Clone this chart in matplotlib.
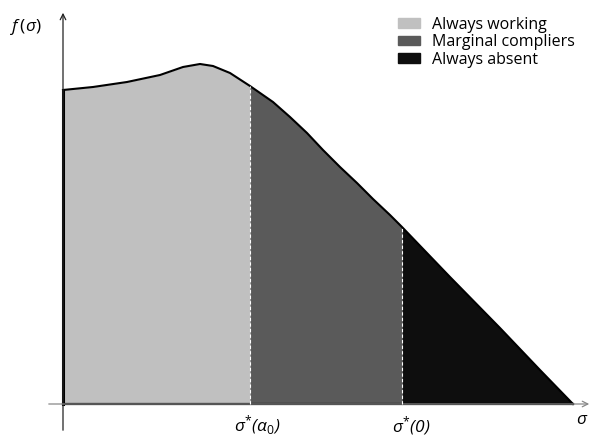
import matplotlib
matplotlib.use("Agg")
import matplotlib.pyplot as plt
from matplotlib.patches import Patch

plt.rcParams['font.family'] = ['Open Sans', 'DejaVu Sans']
plt.rcParams['mathtext.fontset'] = 'custom'
plt.rcParams['mathtext.it'] = 'Open Sans:italic'
plt.rcParams['mathtext.rm'] = 'Open Sans'

# density curve
sigma = [0.0, 0.30, 0.64, 0.97, 1.20, 1.37, 1.50, 1.67, 1.87, 2.10, 2.27,
         2.44, 2.60, 2.77, 2.94, 3.10, 3.27, 3.39, 3.87, 4.37, 4.77, 5.10]
density = [3.14, 3.17, 3.22, 3.29, 3.37, 3.40, 3.38, 3.31, 3.18, 3.02, 2.87,
           2.71, 2.54, 2.37, 2.21, 2.05, 1.89, 1.77, 1.27, 0.76, 0.34, 0.0]

# thresholds
sigma_alpha0 = 1.87
sigma_zero = 3.39

group_labels = ['Always working', 'Marginal compliers', 'Always absent']
group_colors = ['#c0c0c0', '#5a5a5a', '#0e0e0e']

fig = plt.figure(figsize=(5.94, 4.37), dpi=100)
ax = fig.add_axes([0, 0, 1, 1])
ax.set_xlim(-0.63, 5.31)
ax.set_ylim(-0.33, 4.04)
ax.axis('off')

# shaded groups
ax.fill_between(sigma, density, where=[s <= sigma_alpha0 for s in sigma],
                color=group_colors[0], lw=0)
ax.fill_between(sigma, density,
                where=[sigma_alpha0 <= s <= sigma_zero for s in sigma],
                color=group_colors[1], lw=0)
ax.fill_between(sigma, density, where=[s >= sigma_zero for s in sigma],
                color=group_colors[2], lw=0)

# outline
ax.plot(sigma, density, color='black', lw=1.5, zorder=3,
        solid_joinstyle='round')
ax.plot([0, 0], [0, density[0]], color='black', lw=2.2, zorder=3)
ax.plot([0, sigma[-1]], [0, 0], color='black', lw=1.6, zorder=3)

# threshold markers
for xv in (sigma_alpha0, sigma_zero):
    yv = density[sigma.index(xv)]
    ax.plot([xv, xv], [0, yv], color='white', lw=0.8, ls=(0, (3, 2)), zorder=4)

# axes with arrows
ax.annotate('', xy=(0, 3.94), xytext=(0, -0.29),
            arrowprops=dict(arrowstyle='->', color='#222222', lw=0.9))
ax.annotate('', xy=(5.29, 0), xytext=(-0.17, 0),
            arrowprops=dict(arrowstyle='->', color='#888888', lw=0.9))

ax.text(-0.37, 3.77, r'$f\,(\sigma)$', fontsize=12.5, ha='center', va='center')
ax.text(5.19, -0.16, r'$\sigma$', fontsize=12.5, ha='center', va='center')
ax.text(sigma_alpha0 + 0.07, -0.22, r'$\sigma^{*}$($\alpha_0$)',
        fontsize=12.5, fontstyle='italic', ha='center', va='center')
ax.text(sigma_zero + 0.09, -0.22, r'$\sigma^{*}$(0)', fontsize=12.5,
        fontstyle='italic', ha='center', va='center')

handles = [Patch(color=c, label=l) for c, l in zip(group_colors, group_labels)]
ax.legend(handles=handles, loc='upper left', bbox_to_anchor=(0.670, 0.962),
          frameon=False, fontsize=11.5, borderpad=0, borderaxespad=0,
          handlelength=1.4, handleheight=0.56, handletextpad=0.75,
          labelspacing=0.1)

fig.savefig('out.png', dpi=100)
